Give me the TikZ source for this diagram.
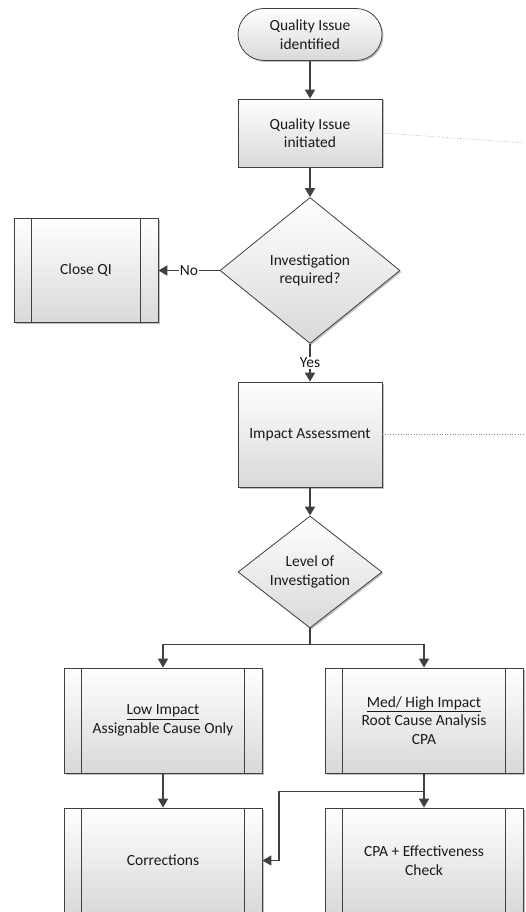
\documentclass[tikz,border=0pt]{standalone}
\usepackage{fontspec}
\setmainfont{Carlito}
\usetikzlibrary{arrows.meta,shapes.geometric,shadows,calc}
\definecolor{ln}{HTML}{404040}
\definecolor{tx}{HTML}{1A1A1A}
\newcommand\innerlines[1]{%
  \draw[draw=ln, line width=0.8pt] ($(#1.north west)+(18,0)$) -- ($(#1.south west)+(18,0)$);
  \draw[draw=ln, line width=0.8pt] ($(#1.north east)+(-18,0)$) -- ($(#1.south east)+(-18,0)$);}
\begin{document}
\begin{tikzpicture}[x=1pt,y=-1pt,
  every node/.style={font=\fontsize{15.5}{18.5}\selectfont, text=tx, align=center},
  shapebase/.style={draw=ln, line width=0.8pt, top color=white, bottom color=black!15,
    drop shadow={shadow xshift=1.5pt, shadow yshift=-1.5pt, opacity=0.25, fill=black}},
  procbox/.style={shapebase, rectangle, minimum width=144pt, minimum height=#1, inner sep=0pt},
  predef/.style={shapebase, rectangle, minimum width=#1, inner sep=0pt},
  term/.style={shapebase, rectangle, rounded corners=26pt, minimum width=144pt, minimum height=52pt, inner sep=0pt},
  dec/.style={shapebase, diamond, inner sep=0pt},
  flow/.style={draw=ln, line width=1.8pt, -{Triangle[length=9pt,width=10pt]}},
  thinflow/.style={draw=ln, line width=1.3pt, -{Triangle[length=9pt,width=10pt]}},
  dotline/.style={draw=black!45, line width=0.6pt, dotted},
  lbl/.style={fill=white, inner sep=1pt}
]
\useasboundingbox (0,0) rectangle (525,912);

\node[term] (start) at (310,34.5) {Quality Issue\\identified};
\node[procbox=68pt] (init) at (310,133) {Quality Issue\\initiated};
\node[dec, minimum width=180pt, minimum height=146pt] (inv) at (310,270.5) {Investigation\\required?};
\node[predef=144pt, minimum height=104pt] (close) at (86,270.5) {Close QI};
\innerlines{close}
\node[procbox=105pt] (impact) at (310,434.5) {Impact Assessment};
\node[dec, minimum width=144pt, minimum height=100pt] (level) at (310,572) {Level of\\Investigation};
\node[predef=198pt, minimum height=105pt] (low) at (163,720.5) {\underline{Low Impact}\\Assignable Cause Only};
\innerlines{low}
\node[predef=198pt, minimum height=105pt] (med) at (424,720.5) {\underline{Med/ High Impact}\\Root Cause Analysis\\CPA};
\innerlines{med}
\node[predef=198pt, minimum height=105pt] (corr) at (163,860.5) {Corrections};
\innerlines{corr}
\node[predef=198pt, minimum height=105pt] (cpa) at (424,860.5) {CPA + Effectiveness\\Check};
\innerlines{cpa}

\coordinate (initEnd) at (525,143);
\coordinate (impEnd) at (525,434.5);
\draw[dotline] (init.east) -- (initEnd);
\draw[dotline] (impact.east) -- (impEnd);

\draw[flow] (start) -- (init);
\draw[flow] (init) -- (inv);
\draw[flow] (inv.west) -- node[lbl] {No} (close.east);
\draw[flow] (inv.south) -- node[lbl] {Yes} (impact.north);
\draw[flow] (impact) -- (level);
\draw[flow] (level.south) -- ++(0,16) -| (low.north);
\draw[flow] (level.south) -- ++(0,16) -| (med.north);
\draw[flow] (low) -- (corr);
\draw[flow] (med) -- (cpa);
\coordinate (j) at ($(med.south)+(0,18)$);
\draw[thinflow] (j) -- ++(-145,0) |- (corr.east);
\end{tikzpicture}
\end{document}
